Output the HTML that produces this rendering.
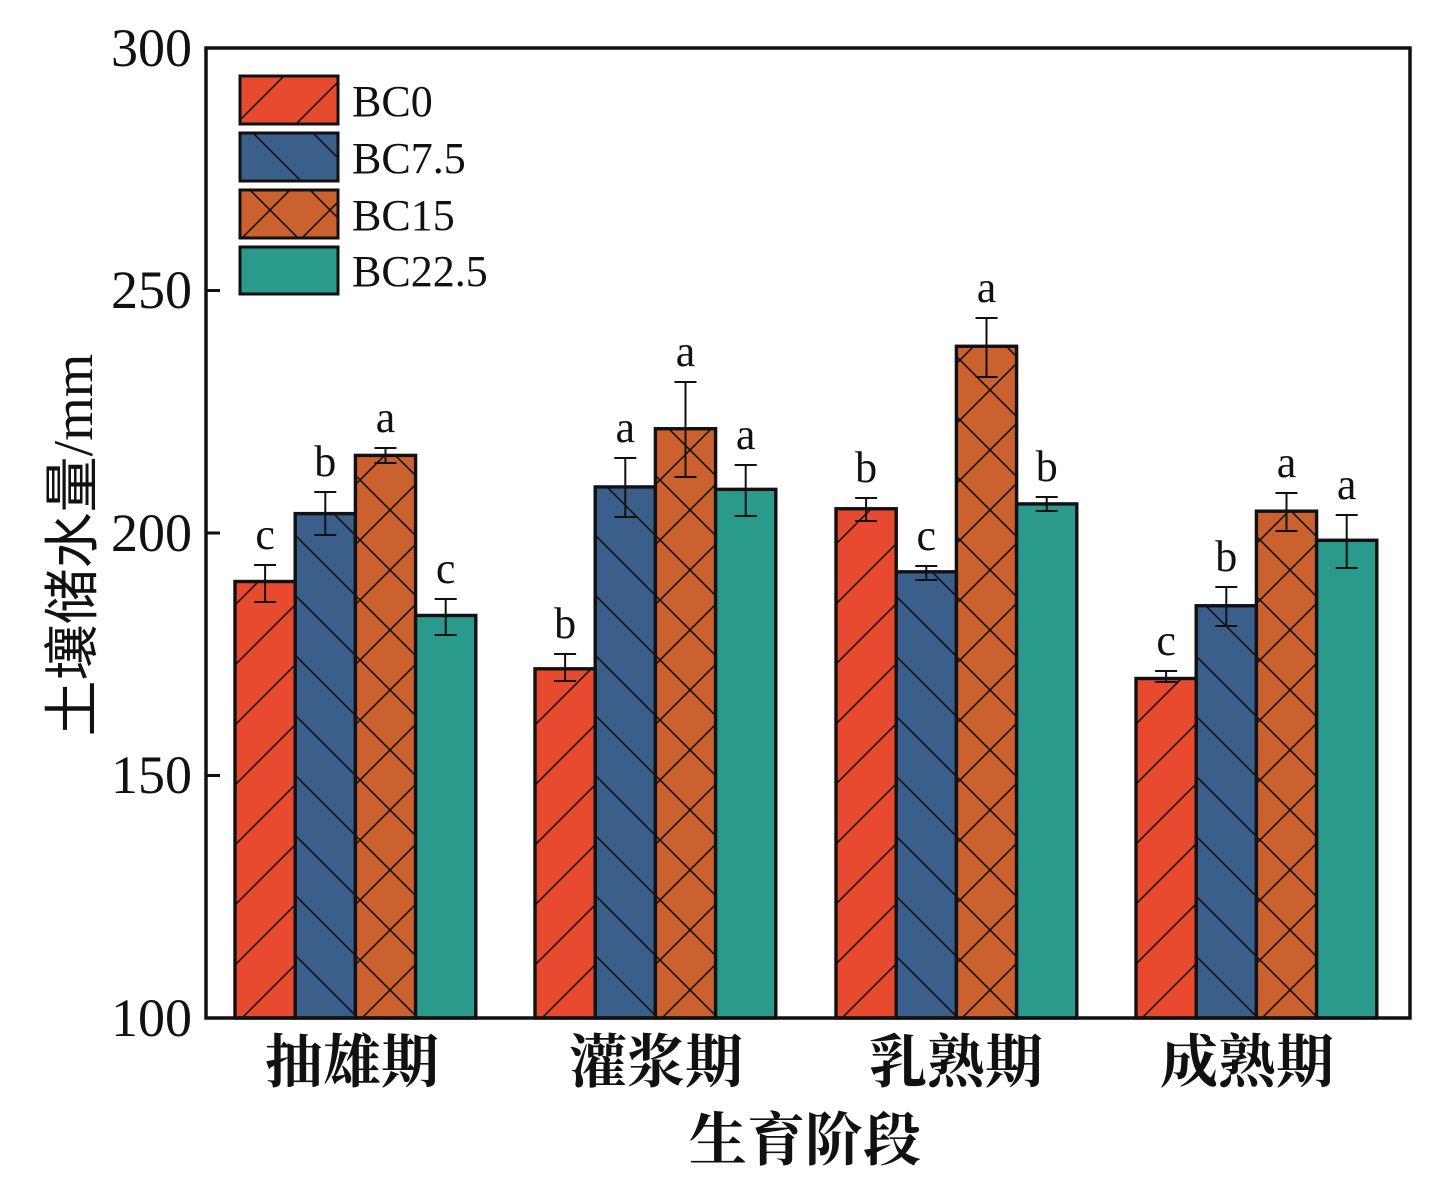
<!DOCTYPE html>
<html><head><meta charset="utf-8"><style>
html,body{margin:0;padding:0;background:#fff;}
svg{display:block;}
text{font-family:"Liberation Serif","Noto Serif CJK SC",serif;fill:#111;}
.cjk{font-family:"Noto Serif CJK SC","Noto Sans CJK SC",serif;font-weight:bold;}
.ys{font-family:"Noto Sans CJK SC","WenQuanYi Zen Hei",sans-serif;}
</style></head><body>
<svg width="1441" height="1181" viewBox="0 0 1441 1181" xmlns="http://www.w3.org/2000/svg">
<defs>
<pattern id="p0" patternUnits="userSpaceOnUse" width="60" height="60"><rect width="60" height="60" fill="#e84a2f"/><path d="M-2,62 L62,-2 M-32,32 L32,-32 M28,92 L92,28" stroke="#111" stroke-width="1.6"/></pattern>
<pattern id="p1" patternUnits="userSpaceOnUse" width="60" height="60"><rect width="60" height="60" fill="#3a5f8b"/><path d="M-2,-2 L62,62 M-32,28 L32,92 M28,-32 L92,32" stroke="#111" stroke-width="1.6"/></pattern>
<pattern id="p2" patternUnits="userSpaceOnUse" width="60" height="60"><rect width="60" height="60" fill="#cc6130"/><path d="M-2,62 L62,-2 M-32,32 L32,-32 M28,92 L92,28 M-2,-2 L62,62 M-32,28 L32,92 M28,-32 L92,32" stroke="#111" stroke-width="1.6"/></pattern>
</defs>
<g id="bars" stroke="#111" stroke-width="3.4"></g>
<rect x="206" y="48" width="1204" height="970" fill="none" stroke="#111" stroke-width="3.5"/>
<g id="ticks"></g>
<g font-size="54">
<text x="192" y="66" text-anchor="end">300</text>
<text x="192" y="308" text-anchor="end">250</text>
<text x="192" y="551" text-anchor="end">200</text>
<text x="192" y="793" text-anchor="end">150</text>
<text x="192" y="1036" text-anchor="end">100</text>
</g>
<g font-size="58" text-anchor="middle">
<text class="cjk" x="352" y="1082">抽雄期</text>
<text class="cjk" x="656" y="1082">灌浆期</text>
<text class="cjk" x="956" y="1082">乳熟期</text>
<text class="cjk" x="1247" y="1082">成熟期</text>
<text class="cjk" x="805" y="1160">生育阶段</text>
</g>
<text font-size="56" transform="translate(92,545) rotate(-90)" text-anchor="middle"><tspan class="ys">土壤储水量</tspan><tspan>/mm</tspan></text>
<g stroke="#111" stroke-width="3">
<rect x="240" y="76" width="98" height="48" fill="url(#p0)"/>
<rect x="240" y="133" width="98" height="48" fill="url(#p1)"/>
<rect x="240" y="190" width="98" height="48" fill="url(#p2)"/>
<rect x="240" y="247" width="98" height="47" fill="#2a9a8c"/>
</g>
<g font-size="44">
<text x="352" y="116">BC0</text>
<text x="352" y="173">BC7.5</text>
<text x="352" y="230">BC15</text>
<text x="352" y="286">BC22.5</text>
</g>
<g id="letters" font-size="44" text-anchor="middle"></g>
</svg>
<script>
var ns="http://www.w3.org/2000/svg";
function Y(v){return 1018-(v-100)*4.85;}
var fills=["url(#p0)","url(#p1)","url(#p2)","#2a9a8c"];
var starts=[235,535,836,1136];
var data=[
[[190,565,602,"c"],[204,492,535,"b"],[216,448,463,"a"],[183,599,635,"c"]],
[[172,654,681,"b"],[209.5,458,517,"a"],[221.5,382,477,"a"],[209,465,516,"a"]],
[[205,498,521,"b"],[192,566,580,"c"],[238.5,318,377,"a"],[206,497,511,"b"]],
[[170,671,682,"c"],[185,587,626,"b"],[204.5,493,531,"a"],[198.5,515,568,"a"]]];
var g=document.getElementById("bars"),L=document.getElementById("letters");
function el(n,a,p){var e=document.createElementNS(ns,n);for(var k in a)e.setAttribute(k,a[k]);p.appendChild(e);return e;}
for(var i=0;i<4;i++)for(var j=0;j<4;j++){
 var d=data[i][j],x=starts[i]+j*60.2,y=Y(d[0]);
 el("rect",{x:x,y:y,width:60.2,height:1018-y,fill:fills[j]},g);
 var cx=x+30.1;
 el("path",{d:"M"+cx+","+d[1]+"V"+d[2]+"M"+(cx-11)+","+d[1]+"H"+(cx+11)+"M"+(cx-11)+","+d[2]+"H"+(cx+11),fill:"none","stroke-width":"2"},g);
 var t=el("text",{x:cx,y:d[1]-16},L);t.textContent=d[3];
}
var tk=document.getElementById("ticks");
for(var v=100;v<=300;v+=50){var y=Y(v);el("path",{d:"M206,"+y+"H220",stroke:"#111","stroke-width":"3"},tk);}
</script>
</body></html>
